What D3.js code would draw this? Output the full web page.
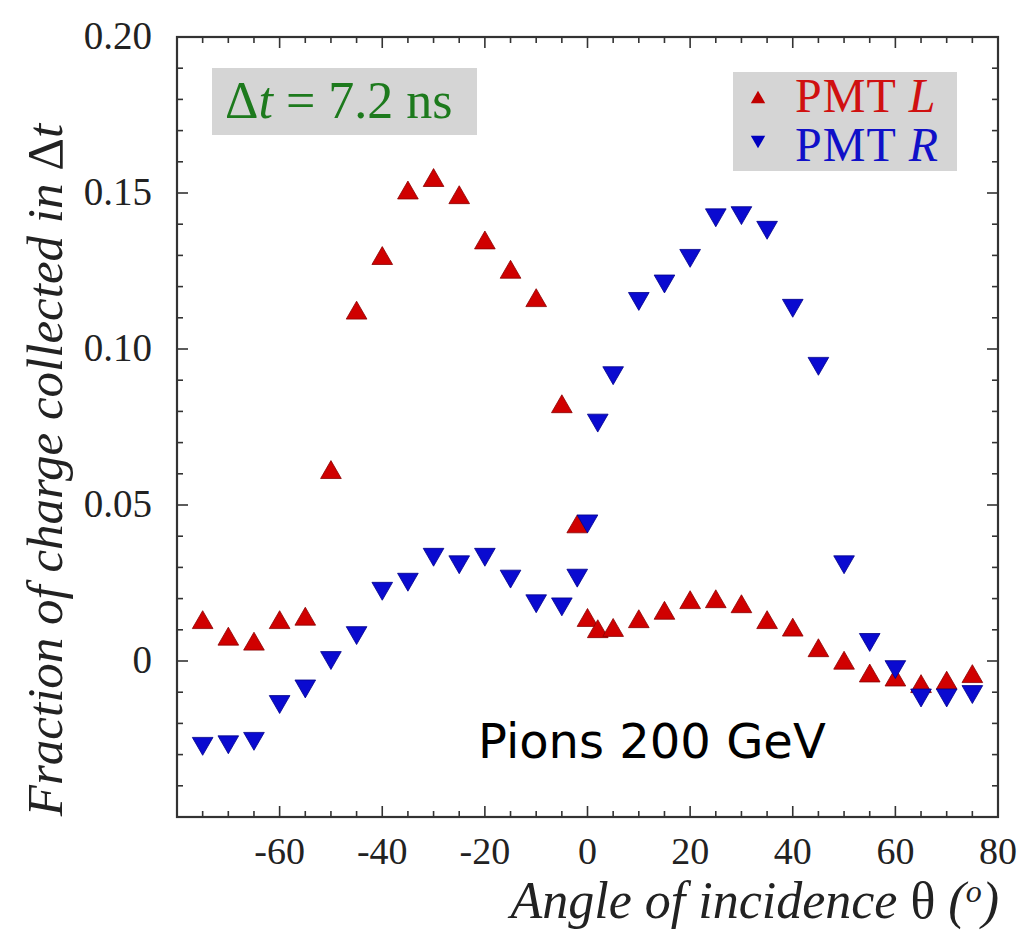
<!DOCTYPE html>
<html lang="en">
<head>
    <meta charset="UTF-8">
    <title>Fraction of charge collected in Δt</title>
    <script src="https://d3js.org/d3.v7.min.js"></script>
    <style>
        body { margin: 0; background: #fff; }
        svg { display: block; }
        .serif { font-family: "Liberation Serif", "DejaVu Serif", serif; }
    </style>
</head>
<body>
<svg id="chart" width="1021" height="931"></svg>
<script>
    // angles of incidence (degrees)
    const angles = [-75, -70, -65, -60, -55, -50, -45, -40, -35, -30, -25, -20, -15, -10, -5,
        -2, 0, 2,
        5, 10, 15, 20, 25, 30, 35, 40, 45, 50, 55, 60, 65, 70, 75];

    const pmtL = [0.0123, 0.0070, 0.0054, 0.0123, 0.0134, 0.0604, 0.1115, 0.129, 0.150, 0.154, 0.1485, 0.134, 0.1246, 0.1155, 0.0815,
        0.0430, 0.0130, 0.0094,
        0.0098, 0.0126, 0.0153, 0.0187, 0.0190, 0.0174, 0.0123, 0.0099, 0.0033, -0.0007, -0.0048, -0.0061, -0.0082, -0.0071, -0.0050];

    const pmtR = [-0.0264, -0.0259, -0.0248, -0.0130, -0.0080, 0.0011, 0.0091, 0.0233, 0.0262, 0.0342, 0.0318, 0.0342, 0.0272, 0.0193, 0.0183,
        0.0275, 0.0449, 0.0772,
        0.0924, 0.1162, 0.1218, 0.130, 0.143, 0.1437, 0.139, 0.114, 0.0954, 0.0318, 0.0069, -0.0018, -0.0109, -0.0109, -0.0098];

    const xTicks = [-60, -40, -20, 0, 20, 40, 60, 80];
    const yTicks = [0, 0.05, 0.10, 0.15, 0.20];
    const yTickLabels = ["0", "0.05", "0.10", "0.15", "0.20"];

    const svg = d3.select("#chart");

    const plot = { left: 177, right: 998, top: 37, bottom: 817 };

    const x = d3.scaleLinear().domain([-80, 80]).range([plot.left, plot.right]);
    const y = d3.scaleLinear().domain([-0.05, 0.20]).range([plot.bottom, plot.top]);

    const frameColor = "#333";

    // ticks on all four sides, pointing inward
    const minorX = d3.range(-75, 80, 5);
    const minorY = d3.range(-4, 20).map(k => k / 100);

    const tickG = svg.append("g").attr("stroke", frameColor).attr("stroke-width", 1.6);
    minorX.forEach(v => {
        const len = (v % 20 === 0) ? 11 : 6;
        tickG.append("line").attr("x1", x(v)).attr("x2", x(v)).attr("y1", plot.bottom).attr("y2", plot.bottom - len);
        tickG.append("line").attr("x1", x(v)).attr("x2", x(v)).attr("y1", plot.top).attr("y2", plot.top + len);
    });
    minorY.forEach(v => {
        const major = Math.round(v * 100) % 5 === 0;
        const len = major ? 11 : 6;
        tickG.append("line").attr("y1", y(v)).attr("y2", y(v)).attr("x1", plot.left).attr("x2", plot.left + len);
        tickG.append("line").attr("y1", y(v)).attr("y2", y(v)).attr("x1", plot.right).attr("x2", plot.right - len);
    });

    svg.append("rect")
        .attr("x", plot.left).attr("y", plot.top)
        .attr("width", plot.right - plot.left).attr("height", plot.bottom - plot.top)
        .attr("fill", "none").attr("stroke", frameColor).attr("stroke-width", 2.2);

    // tick labels
    svg.append("g").selectAll("text")
        .data(xTicks).enter().append("text")
        .attr("class", "serif")
        .attr("x", d => x(d))
        .attr("y", 864)
        .attr("text-anchor", "middle")
        .attr("font-size", 38)
        .attr("fill", "#222")
        .text(d => d);

    svg.append("g").selectAll("text")
        .data(yTicks).enter().append("text")
        .attr("class", "serif")
        .attr("x", 152)
        .attr("y", d => y(d) + 12)
        .attr("text-anchor", "end")
        .attr("font-size", 39)
        .attr("fill", "#222")
        .text((d, i) => yTickLabels[i]);

    // axis titles
    svg.append("text")
        .attr("class", "serif")
        .attr("x", 999).attr("y", 918)
        .attr("text-anchor", "end")
        .attr("font-size", 52)
        .attr("font-style", "italic")
        .attr("fill", "#222")
        .html('Angle of incidence <tspan font-style="normal">θ</tspan> (<tspan font-size="32" dy="-16">o</tspan><tspan dy="16">)</tspan>');

    svg.append("text")
        .attr("class", "serif")
        .attr("transform", "translate(62,470) rotate(-90)")
        .attr("text-anchor", "middle")
        .attr("font-size", 51)
        .attr("font-style", "italic")
        .attr("fill", "#222")
        .html('Fraction of charge collected in <tspan font-style="normal">Δ</tspan>t');

    // Δt box
    svg.append("rect").attr("x", 212).attr("y", 68).attr("width", 265).attr("height", 67).attr("fill", "#d5d5d5");
    svg.append("text")
        .attr("class", "serif")
        .attr("x", 225).attr("y", 118)
        .attr("font-size", 52)
        .attr("fill", "#1d7a1d")
        .html('Δ<tspan font-style="italic">t</tspan> = 7.2 ns');

    // legend
    svg.append("rect").attr("x", 733).attr("y", 72).attr("width", 224).attr("height", 99).attr("fill", "#d5d5d5");

    const tri = d3.symbol().type(d3.symbolTriangle);

    svg.append("path").attr("d", tri.size(90)()).attr("transform", "translate(758,99)").attr("fill", "#c00000");
    svg.append("path").attr("d", tri.size(90)()).attr("transform", "translate(758,140) rotate(180)").attr("fill", "#0000c0");

    svg.append("text")
        .attr("class", "serif")
        .attr("x", 795).attr("y", 112)
        .attr("font-size", 48)
        .attr("letter-spacing", 1)
        .attr("fill", "#d01010")
        .html('PMT <tspan font-style="italic">L</tspan>');
    svg.append("text")
        .attr("class", "serif")
        .attr("x", 795).attr("y", 161)
        .attr("font-size", 48)
        .attr("letter-spacing", 1)
        .attr("fill", "#1010c8")
        .html('PMT <tspan font-style="italic">R</tspan>');

    // data points
    svg.append("g").selectAll("path")
        .data(angles).enter().append("path")
        .attr("d", tri.size(185)())
        .attr("transform", (d, i) => `translate(${x(d)},${y(pmtL[i])})`)
        .attr("fill", "#d00000")
        .attr("stroke", "#8a0000")
        .attr("stroke-width", 0.8);

    svg.append("g").selectAll("path")
        .data(angles).enter().append("path")
        .attr("d", tri.size(185)())
        .attr("transform", (d, i) => `translate(${x(d)},${y(pmtR[i])}) rotate(180)`)
        .attr("fill", "#0a0ad0")
        .attr("stroke", "#00008a")
        .attr("stroke-width", 0.8);

    // annotation
    svg.append("text")
        .attr("x", 478).attr("y", 758)
        .attr("font-family", "'DejaVu Sans', sans-serif")
        .attr("font-size", 48)
        .attr("fill", "#000")
        .text("Pions 200 GeV");
</script>
</body>
</html>
